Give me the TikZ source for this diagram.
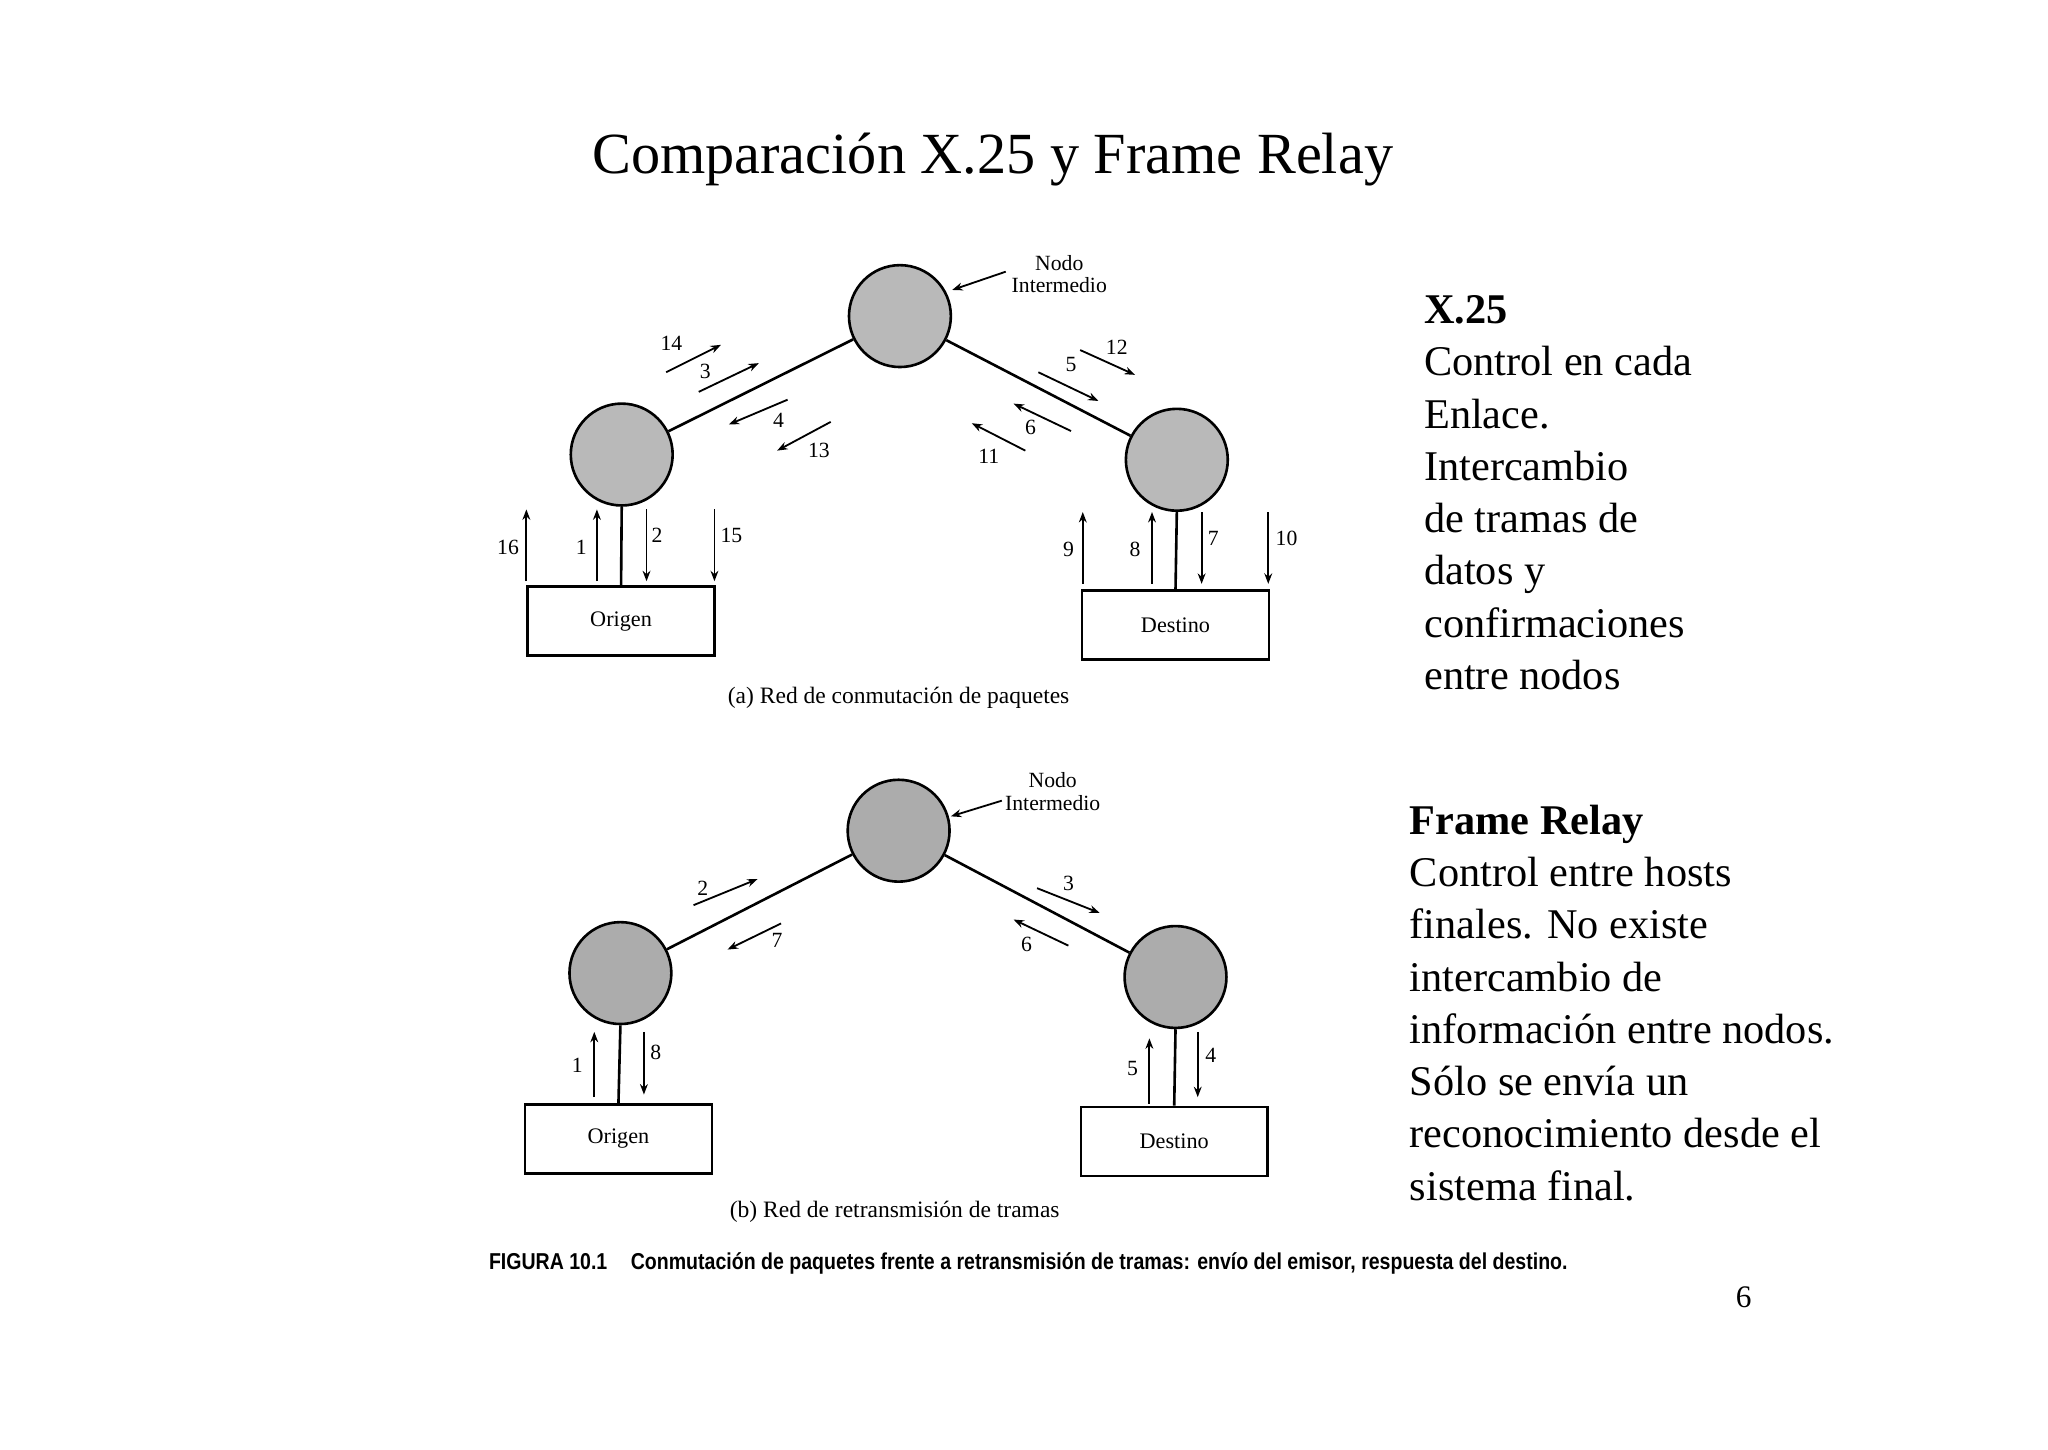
\documentclass[tikz,border=0pt]{standalone}
\usepackage{fontspec}
\setmainfont{Liberation Serif}
\newfontfamily\sansf[FakeStretch=0.85]{Liberation Sans}
\usetikzlibrary{arrows.meta}
\begin{document}
\begin{tikzpicture}[x=0.5pt,y=-0.5pt,
  nd/.style={circle,draw,line width=1pt,minimum size=39pt,inner sep=0,fill=gray!55},
  bx/.style={draw,line width=1pt,minimum width=71.5pt,minimum height=26.5pt,font=\fontsize{8.5}{9}\selectfont},
  ln/.style={line width=1pt},
  ar/.style={-{Stealth[length=4pt,width=3pt]},line width=0.7pt},
  lb/.style={font=\fontsize{8.3}{8.5}\selectfont,inner sep=1pt},
  rt/.style={font=\fontsize{16.2}{20}\selectfont,align=left,anchor=north west,inner sep=0}]
\useasboundingbox (0,0) rectangle (1568,1110);
\node[font=\fontsize{22.3}{24}\selectfont] (title) at (760,122) {Comparación X.25 y Frame Relay};
% ---- (a)
\node[nd] (aT) at (689,242) {};
\node[nd] (aL) at (476,348) {};
\node[nd] (aR) at (901,352) {};
\node[bx] (aO) at (475.5,475.5) {Origen};
\node[bx] (aD) at (900,478.5) {Destino};
\draw[ln] (aL) -- (aT) -- (aR);
\draw[ln] (aL.south) -- (aO.north);
\draw[ln] (aR.south) -- (aD.north);
\node[lb,align=center] (aNI) at (811,210) {Nodo\\Intermedio};
\coordinate (aNIs) at (770,208);
\draw[ar] (aNIs) -- (aT.east |- 0,222);
\foreach \n/\x/\a/\b/\lx/\ly in {16/403/445/390/389/419, 1/457/445/390/445/419, 2/495/390/445/503/410, 15/547/390/445/560/410, 9/829/447/392/818/421, 8/882/447/392/869/421, 7/920/392/447/929/412, 10/971/392/447/985/412}{
  \coordinate (s\n) at (\x,\a); \coordinate (e\n) at (\x,\b);
  \draw[ar] (s\n) -- (e\n);
  \node[lb] (l\n) at (\lx,\ly) {\n};}
\foreach \n/\xa/\ya/\xb/\yb/\lx/\ly in {14/510/285/552/264/514/263, 3/535/300/581/278/540/284, 4/603/306/558/325/596/322, 13/636/323/595/345/627/345, 5/795/285/841/307/820/279, 12/827/268/869/287/855/266, 6/820/330/776/309/789/327, 11/785/345/744/324/757/349}{
  \coordinate (ds\n) at (\xa,\ya); \coordinate (de\n) at (\xb,\yb);
  \draw[ar] (ds\n) -- (de\n);
  \node[lb] (dl\n) at (\lx,\ly) {\n};}
\node[font=\fontsize{9}{9}\selectfont] (capa) at (688,534) {(a) Red de conmutación de paquetes};
% ---- (b)
\node[nd,fill=gray!65] (bT) at (688,636) {};
\node[nd,fill=gray!65] (bL) at (475,745) {};
\node[nd,fill=gray!65] (bR) at (900,748) {};
\node[bx] (bO) at (473.5,872) {Origen};
\node[bx] (bD) at (899,874) {Destino};
\draw[ln] (bL) -- (bT) -- (bR);
\draw[ln] (bL.south) -- (bO.north);
\draw[ln] (bR.south) -- (bD.north);
\node[lb,align=center] (bNI) at (806,606) {Nodo\\Intermedio};
\coordinate (bNIs) at (767,613);
\draw[ar] (bNIs) -- (bT.east |- 0,625);
\foreach \n/\x/\a/\b/\lx/\ly in {1/455/840/790/442/816, 8/493/790/838/502/806, 5/880/845/795/867/818, 4/917/790/840/927/808}{
  \coordinate (bs\n) at (\x,\a); \coordinate (be\n) at (\x,\b);
  \draw[ar] (bs\n) -- (be\n);
  \node[lb] (bl\n) at (\lx,\ly) {\n};}
\foreach \n/\xa/\ya/\xb/\yb/\lx/\ly in {2/531/693/580/673/538/680, 7/598/707/557/727/595/720, 3/794/680/842/699/818/676, 6/818/724/776/704/786/723}{
  \coordinate (bds\n) at (\xa,\ya); \coordinate (bde\n) at (\xb,\yb);
  \draw[ar] (bds\n) -- (bde\n);
  \node[lb] (bdl\n) at (\lx,\ly) {\n};}
\node[font=\fontsize{9}{9}\selectfont] (capb) at (685,928) {(b) Red de retransmisión de tramas};
\node[font=\sansf\bfseries\fontsize{8.8}{9}\selectfont,anchor=west,inner sep=0] (fig) at (374,967) {FIGURA 10.1\hspace{9pt}Conmutación de paquetes frente a retransmisión de tramas: envío del emisor, respuesta del destino.};
% ---- right text
\node[rt] (tx) at (1090,226) {\textbf{X.25}\\Control en cada\\Enlace.\\Intercambio\\de tramas de\\datos y\\confirmaciones\\entre nodos};
\node[rt] (tf) at (1079,616) {\textbf{Frame Relay}\\Control entre hosts\\finales. No existe\\intercambio de\\información entre nodos.\\Sólo se envía un\\reconocimiento desde el\\sistema final.};
\node[font=\fontsize{12}{14}\selectfont] (pg) at (1335,993) {6};
\end{tikzpicture}
\end{document}
